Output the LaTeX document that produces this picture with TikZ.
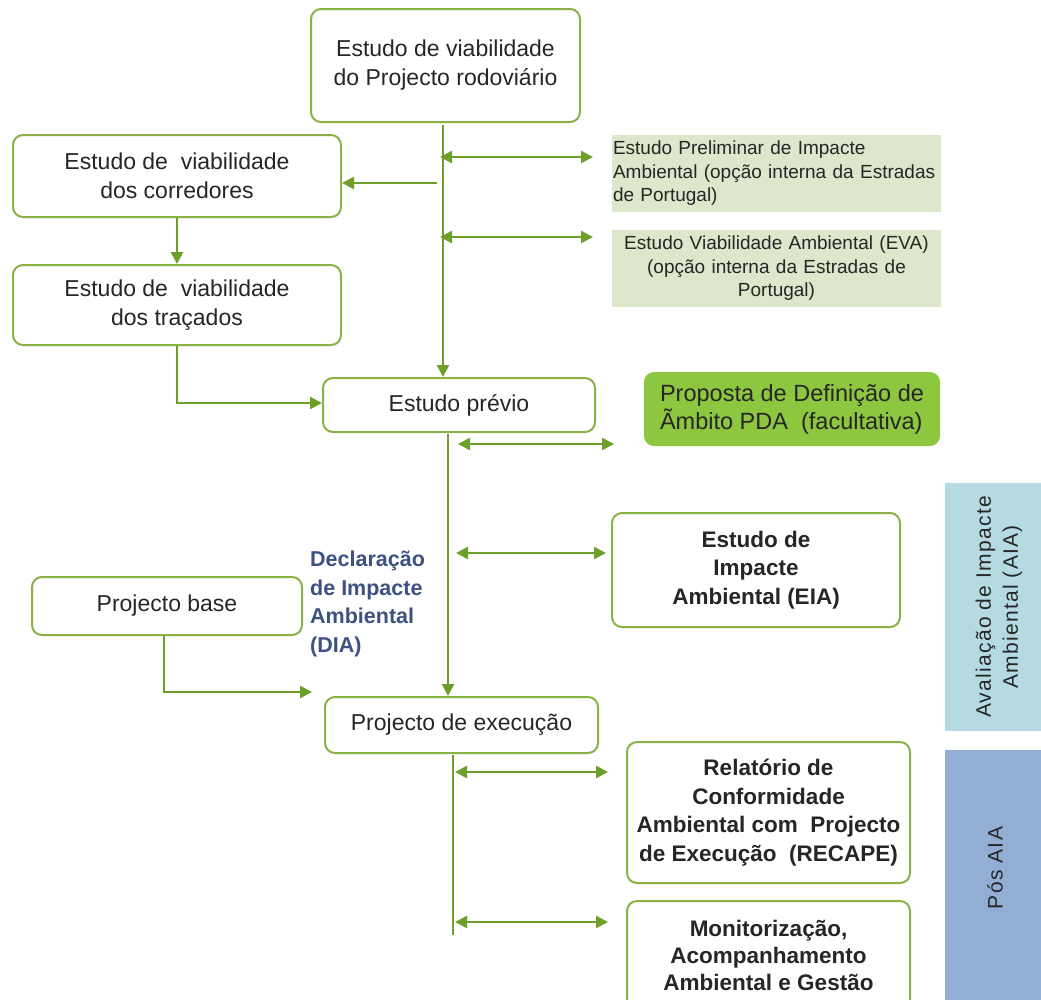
\documentclass[tikz,border=0pt]{standalone}
\usepackage{fontspec}
\setmainfont{Liberation Sans}
\newfontfamily\spacedfont[LetterSpace=6]{Liberation Sans}
\usetikzlibrary{arrows.meta}
\definecolor{boxgreen}{HTML}{8AB146}
\definecolor{argreen}{HTML}{6E9F2A}
\definecolor{lightbox}{HTML}{DDE7CB}
\definecolor{pdagreen}{HTML}{8DC63F}
\definecolor{aiablue}{HTML}{B5DAE2}
\definecolor{posblue}{HTML}{93AED5}
\definecolor{declblue}{HTML}{3E5183}
\definecolor{txt}{HTML}{262626}
\begin{document}
\begin{tikzpicture}[x=1pt,y=-1pt,
  flowbox/.style={draw=boxgreen, line width=2pt, rounded corners=10pt, fill=white,
    inner sep=0pt, align=center, text=txt, font=\fontsize{23}{29}\selectfont},
  boldbox/.style={flowbox, font=\bfseries\fontsize{22.5}{28.5}\selectfont},
  notebox/.style={fill=lightbox, inner sep=1pt, text=txt, font=\fontsize{19}{23.5}\selectfont},
  sidebar/.style={inner sep=0pt},
  flow/.style={draw=argreen, line width=2.6pt, -{Triangle[length=12pt,width=12pt]}},
  both/.style={draw=argreen, line width=2.6pt, {Triangle[length=12pt,width=12pt]}-{Triangle[length=12pt,width=12pt]}},
  plain/.style={draw=argreen, line width=2.6pt}
]
\clip (0,0) rectangle (1041,999);
\fill[white] (0,0) rectangle (1041,999);

% side bars
\node[sidebar, fill=aiablue, minimum width=96pt, minimum height=248pt] (aiabar) at (993,607) {};
\node[sidebar, fill=posblue, minimum width=96pt, minimum height=260pt] (posbar) at (993,880) {};
\node[rotate=90, align=center, text=txt, font=\spacedfont\fontsize{21}{27}\selectfont] (aiatext) at (999,607) {Avaliação de Impacte\\Ambiental  (AIA)};
\node[rotate=90, text=txt, font=\spacedfont\fontsize{21}{27}\selectfont] (postext) at (995,868) {Pós AIA};

% left / central flow boxes
\node[flowbox, minimum width=269pt, minimum height=113pt] (top) at (445.5,65.5) {Estudo de viabilidade\\do Projecto rodoviário};
\node[flowbox, minimum width=328pt, minimum height=82pt] (corr) at (177,176) {Estudo de~ viabilidade\\dos corredores};
\node[flowbox, minimum width=328pt, minimum height=80pt] (trac) at (177,305) {Estudo de~ viabilidade\\dos traçados};
\node[flowbox, minimum width=272pt, minimum height=54pt] (prev) at (459,405) {Estudo prévio};
\node[flowbox, minimum width=270pt, minimum height=58pt] (base) at (167,606) {Projecto base};
\node[flowbox, minimum width=273pt, minimum height=56pt] (exec) at (461.5,725) {Projecto de execução};

% right boxes
\node[notebox, minimum width=329pt, minimum height=77pt, text width=327pt, align=left] (epia) at (776.5,173.5) {Estudo Preliminar de Impacte\\Ambiental (opção interna da Estradas\\de Portugal)};
\node[notebox, minimum width=329pt, minimum height=77pt, text width=327pt, align=center] (eva) at (776.5,268.5) {Estudo Viabilidade Ambiental (EVA)\\(opção interna da Estradas de\\Portugal)};
\node[fill=pdagreen, rounded corners=10pt, minimum width=296pt, minimum height=74pt, inner sep=0pt, align=left, text=txt, font=\fontsize{23.5}{28}\selectfont] (pda) at (792,409) {Proposta de Definição de\\Ãmbito PDA~ (facultativa)};
\node[boldbox, minimum width=288pt, minimum height=114pt] (eia) at (756,570) {Estudo de\\Impacte\\Ambiental (EIA)};
\node[boldbox, minimum width=283pt, minimum height=141pt] (recape) at (768.5,812.5) {Relatório de\\Conformidade\\Ambiental com~ Projecto\\de Execução~ (RECAPE)};
\node[boldbox, minimum width=283pt, minimum height=109pt, font=\bfseries\fontsize{22.5}{27}\selectfont] (monit) at (768.5,955.5) {Monitorização,\\Acompanhamento\\Ambiental e Gestão};

% DIA label
\node[anchor=west, inner sep=0pt, align=left, text=declblue, font=\bfseries\fontsize{21.5}{28.5}\selectfont] (dia) at (310,604) {Declaração\\de Impacte\\Ambiental\\(DIA)};

% coordinates
\coordinate (v1) at (443,125);
\coordinate (hc) at (437,183);
\coordinate (r1l) at (440,157);
\coordinate (r1r) at (593,157);
\coordinate (r2l) at (440,237);
\coordinate (r2r) at (593,237);
\coordinate (v2) at (448,434);
\coordinate (r3l) at (458,444);
\coordinate (r3r) at (614,444);
\coordinate (r4l) at (456,553);
\coordinate (r4r) at (606,553);
\coordinate (pbend) at (312,692);
\coordinate (v3a) at (453,755);
\coordinate (v3b) at (453,935);
\coordinate (r5l) at (455,772);
\coordinate (r5r) at (608,772);
\coordinate (r6l) at (455,922);
\coordinate (r6r) at (608,922);

% connectors
\draw[flow] (v1) -- (v1 |- prev.north);
\draw[flow] (hc) -- (hc -| corr.east);
\draw[both] (r1l) -- (r1r);
\draw[both] (r2l) -- (r2r);
\draw[flow] (corr.south) -- (trac.north);
\draw[flow] (trac.south) |- ([yshift=2pt]prev.west);
\draw[both] (r3l) -- (r3r);
\draw[flow] (v2) -- (v2 |- exec.north);
\draw[both] (r4l) -- (r4r);
\draw[flow] ([xshift=-3pt]base.south) |- (pbend);
\draw[plain] (v3a) -- (v3b);
\draw[both] (r5l) -- (r5r);
\draw[both] (r6l) -- (r6r);
\end{tikzpicture}
\end{document}
